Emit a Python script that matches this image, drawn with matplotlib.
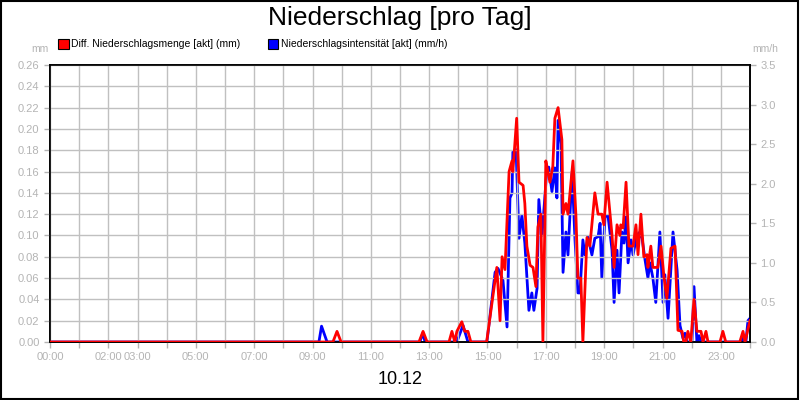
import numpy as np
import matplotlib
matplotlib.use("Agg")
import matplotlib.pyplot as plt
from matplotlib.patches import Rectangle

plt.rcParams['font.family'] = ['Liberation Sans', 'DejaVu Sans']

# Diff. Niederschlagsmenge (mm) -- time in hours of day
red_t = [0.0, 9.70, 9.84, 9.98, 12.65, 12.79, 12.93, 13.68, 13.78, 13.88, 13.95, 14.12, 14.22, 14.33, 14.43,
         14.97, 15.32, 15.43, 15.50, 15.60, 15.74, 15.84, 15.87, 16.00, 16.08, 16.22, 16.28, 16.35, 16.46,
         16.56, 16.66, 16.73, 16.83, 16.90, 17.00, 17.07, 17.14, 17.24, 17.31, 17.42, 17.55, 17.59, 17.69,
         17.76, 17.93, 18.03, 18.10, 18.20, 18.27, 18.41, 18.51, 18.68, 18.79, 18.92, 18.99, 19.10, 19.27,
         19.34, 19.44, 19.54, 19.57, 19.65, 19.75, 19.85, 19.99, 20.09, 20.16, 20.26, 20.36, 20.47, 20.50,
         20.60, 20.67, 20.84, 20.95, 21.05, 21.15, 21.29, 21.43, 21.53, 21.67, 21.73, 21.80, 21.87, 21.97,
         22.08, 22.18, 22.32, 22.39, 22.49, 22.56, 22.97, 23.07, 23.17, 23.65, 23.76, 23.83, 23.93, 24.0]
red_v = [0, 0, 0.01, 0, 0, 0.01, 0, 0, 0.01, 0, 0.01, 0.019, 0.01, 0.01, 0,
         0, 0.07, 0.02, 0.08, 0.068, 0.16, 0.17, 0.16, 0.21, 0.15, 0.147, 0.13, 0.09, 0.072,
         0.07, 0.052, 0.108, 0.12, 0, 0.17, 0.16, 0.15, 0.165, 0.21, 0.22, 0.19, 0.12, 0.13,
         0.12, 0.17, 0.12, 0.06, 0.06, 0, 0.098, 0.09, 0.14, 0.12, 0.12, 0.11, 0.15, 0.10,
         0.07, 0.11, 0.10, 0.11, 0.107, 0.15, 0.09, 0.09, 0.11, 0.082, 0.12, 0.08, 0.082, 0.07,
         0.09, 0.07, 0.07, 0.09, 0.061, 0.041, 0.088, 0.09, 0.011, 0.01, 0, 0, 0.01, 0,
         0.04, 0.01, 0.01, 0, 0.01, 0, 0, 0.01, 0, 0, 0.01, 0, 0.012, 0.02]

# Niederschlagsintensitaet (mm/h)
blue_t = [0.0, 9.22, 9.31, 9.50, 12.68, 12.78, 12.86, 13.95, 14.16, 14.33, 14.98, 15.26, 15.36, 15.53,
          15.67, 15.77, 15.84, 15.87, 15.98, 16.08, 16.18, 16.28, 16.42, 16.52, 16.59, 16.70, 16.76,
          16.87, 17.04, 17.10, 17.21, 17.31, 17.38, 17.42, 17.52, 17.59, 17.69, 17.76, 17.90, 18.00,
          18.10, 18.17, 18.27, 18.34, 18.44, 18.58, 18.68, 18.79, 18.86, 18.92, 19.03, 19.13, 19.27,
          19.34, 19.44, 19.51, 19.61, 19.68, 19.75, 19.82, 19.92, 19.99, 20.09, 20.19, 20.30, 20.40,
          20.50, 20.57, 20.67, 20.77, 20.91, 21.02, 21.08, 21.19, 21.36, 21.50, 21.60, 21.70, 21.77,
          21.84, 22.01, 22.08, 22.18, 22.25, 22.32, 23.69, 23.76, 23.86, 23.93, 24.0]
blue_v = [0, 0, 0.2, 0, 0, 0.11, 0, 0, 0.21, 0, 0, 0.88, 0.93, 0.78,
          0.19, 1.82, 1.88, 2.4, 2.43, 1.31, 1.6, 1.25, 0.4, 0.62, 0.4, 0.68, 1.8,
          1.35, 2.2, 2.21, 1.9, 2.2, 1.82, 2.8, 2.5, 0.88, 1.39, 1.1, 2.15, 1.29,
          0.62, 0.62, 1.29, 1.1, 1.33, 1.1, 1.31, 1.33, 1.5, 0.81, 1.58, 1.6, 1.16,
          0.5, 1.16, 0.62, 1.39, 1.25, 1.58, 1.0, 1.29, 1.1, 1.29, 1.38, 1.31, 1.04,
          0.81, 1.0, 0.81, 0.5, 1.39, 0.5, 0.85, 0.3, 1.39, 0.91, 0.21, 0.05, 0.11,
          0, 0, 0.7, 0, 0.08, 0, 0, 0.05, 0, 0.27, 0.3]

hour_labels = {0: '00:00', 2: '02:00', 3: '03:00', 5: '05:00', 7: '07:00', 9: '09:00', 11: '11:00',
               13: '13:00', 15: '15:00', 17: '17:00', 19: '19:00', 21: '21:00', 23: '23:00'}

grey = '#b4b4b4'
fig = plt.figure(figsize=(8, 4), dpi=100)
fig.patches.append(Rectangle((0.001, 0.002), 0.997, 0.995, transform=fig.transFigure,
                             fill=False, edgecolor='black', lw=1.5))

ax = fig.add_axes([0.0625, 0.145, 0.875, 0.6925])
ax2 = ax.twinx()

ax2.plot(blue_t, blue_v, color='#0000ff', lw=2.0, zorder=3)
ax.plot(red_t, red_v, color='#ff0000', lw=2.0, zorder=4)
ax.set_zorder(ax2.get_zorder() + 1)
ax.patch.set_visible(False)

ax.set_xlim(0, 24)
ax.set_ylim(0, 0.26)
ax2.set_ylim(0, 3.5)

ax.set_xticks(range(25))
ax.set_xticklabels([hour_labels.get(h, '') for h in range(25)])
ax.set_yticks(np.arange(0, 0.261, 0.02))
ax.set_yticklabels(['%.2f' % v for v in np.arange(0, 0.261, 0.02)])
ax2.set_yticks(np.arange(0, 3.51, 0.5))
ax2.set_yticklabels(['%.1f' % v for v in np.arange(0, 3.51, 0.5)])

ax.grid(True, color='#c0c0c0', lw=1)
for a in (ax, ax2):
    a.tick_params(colors=grey, labelsize=8, length=4, width=1)
    for s in a.spines.values():
        s.set_color('black')
        s.set_linewidth(1.2)

fig.text(0.5, 0.955, 'Niederschlag [pro Tag]', ha='center', va='center', fontsize=19)
fig.text(0.5, 0.05, '10.12', ha='center', va='center', fontsize=13)
fig.text(0.05, 0.877, 'mm', ha='center', va='center', fontsize=7.5, color=grey)
fig.text(0.957, 0.877, 'mm/h', ha='center', va='center', fontsize=7.5, color=grey)

# legend
fig.patches.append(Rectangle((0.073, 0.877), 0.013, 0.026, transform=fig.transFigure,
                             facecolor='#ff0000', edgecolor='black', lw=0.8))
fig.text(0.089, 0.89, 'Diff. Niederschlagsmenge [akt] (mm)', va='center', fontsize=7.5)
fig.patches.append(Rectangle((0.335, 0.877), 0.013, 0.026, transform=fig.transFigure,
                             facecolor='#0000ff', edgecolor='black', lw=0.8))
fig.text(0.351, 0.89, 'Niederschlagsintensität [akt] (mm/h)', va='center', fontsize=7.5)

fig.savefig('out.png', dpi=100)
